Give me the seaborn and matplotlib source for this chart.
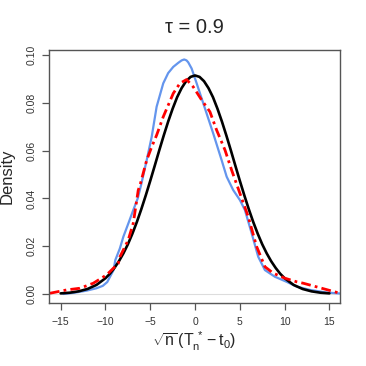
import numpy as np
import pandas as pd
import matplotlib
matplotlib.use("Agg")
import matplotlib.pyplot as plt
import seaborn as sns

# Kurven
blue_x = [-14.7, -13.5, -12.1, -11.0, -10.3, -9.8, -9.1, -8.9, -8.4, -8.0, -7.4, -6.9, -6.4,
          -6.0, -5.4, -4.84, -4.29, -3.55, -3.0, -2.43, -1.87, -1.5, -1.21, -0.95, -0.76,
          -0.38, 0.18, 0.92, 2.03, 2.97, 3.53, 4.26, 5.01, 5.57, 6.32, 7.05, 7.8, 8.92,
          10.22, 11.34, 12.83, 14.69, 16.2]
blue_y = [0.0, 0.0005, 0.0014, 0.0024, 0.0034, 0.0050, 0.0100, 0.0142, 0.0190, 0.0240, 0.0300,
          0.0351, 0.0400, 0.0460, 0.0560, 0.0658, 0.0784, 0.0882, 0.0925, 0.0951, 0.0968,
          0.0978, 0.0982, 0.0978, 0.0970, 0.0944, 0.0882, 0.0798, 0.0672, 0.0560, 0.0491,
          0.0435, 0.0393, 0.0351, 0.0254, 0.0156, 0.0100, 0.0072, 0.0051, 0.0031, 0.0017,
          0.0006, 0.0002]

red_x = [-16.2, -14.33, -12.85, -11.36, -9.87, -8.57, -8.38, -7.46, -6.9, -6.34, -6.14, -5.4,
         -4.84, -4.29, -3.55, -2.43, -1.69, -0.94, -0.2, 0.74, 1.66, 2.41, 3.34, 4.08, 5.01,
         5.94, 6.88, 7.80, 8.73, 10.03, 11.34, 12.08, 13.94, 16.17]
red_y = [0.0003, 0.0017, 0.0024, 0.0045, 0.0080, 0.0128, 0.0156, 0.0226, 0.0296, 0.0435,
         0.0456, 0.0560, 0.0616, 0.0665, 0.0742, 0.0840, 0.0882, 0.0898, 0.0867, 0.0812,
         0.0763, 0.0686, 0.0603, 0.0519, 0.0421, 0.0323, 0.0198, 0.0114, 0.0087, 0.0066,
         0.0051, 0.0045, 0.0026, 0.0003]

black_x = [-15, -14, -13, -12, -11, -10, -9.5, -9, -8.5, -8, -7.5, -7, -6.5, -6, -5.5, -5,
           -4.5, -4, -3.5, -3, -2.5, -2, -1.5, -1, -0.5, 0, 0.5, 1, 1.5, 2, 2.5, 3, 3.5, 4,
           4.5, 5, 5.5, 6, 6.5, 7, 7.5, 8, 8.5, 9, 9.5, 10, 11, 12, 13, 14, 15]
black_y = [0.00025, 0.00053, 0.0011, 0.0021, 0.0038, 0.0066, 0.0085, 0.0109, 0.0137, 0.0170,
           0.0208, 0.0252, 0.0301, 0.0355, 0.0413, 0.0474, 0.0537, 0.0601, 0.0663, 0.0722,
           0.0776, 0.0824, 0.0862, 0.0891, 0.0909, 0.0915, 0.0909, 0.0891, 0.0862, 0.0824,
           0.0776, 0.0722, 0.0663, 0.0601, 0.0537, 0.0474, 0.0413, 0.0355, 0.0301, 0.0252,
           0.0208, 0.0170, 0.0137, 0.0109, 0.0085, 0.0066, 0.0038, 0.0021, 0.0011, 0.00053,
           0.00025]

x_ticks = [-15, -10, -5, 0, 5, 10, 15]
y_ticks = [0.00, 0.02, 0.04, 0.06, 0.08, 0.10]

sns.set_style("white")
plt.rcParams['font.family'] = ['Liberation Sans', 'DejaVu Sans']
plt.rcParams['mathtext.fontset'] = 'custom'
plt.rcParams['mathtext.rm'] = 'Liberation Sans'
plt.rcParams['mathtext.it'] = 'Liberation Sans'

fig = plt.figure(figsize=(3.66, 3.66), dpi=100)
ax = fig.add_axes([0.1347, 0.172, 0.794, 0.691])

ax.axhline(0, color='#dddddd', linewidth=0.8, zorder=0)
sns.lineplot(x=blue_x, y=blue_y, ax=ax, color='#6495ED', linewidth=1.6, sort=False)
sns.lineplot(x=black_x, y=black_y, ax=ax, color='black', linewidth=1.9, sort=False)
sns.lineplot(x=red_x, y=red_y, ax=ax, color='red', linewidth=2.0, sort=False,
             linestyle=(0, (3.5, 1.5, 1, 1.5)))

ax.set_xlim(-16.27, 16.17)
ax.set_ylim(-0.0038, 0.1021)
ax.set_xticks(x_ticks)
ax.set_xticklabels([str(t).replace('-', '\u2212') for t in x_ticks])
ax.set_yticks(y_ticks)
ax.set_yticklabels(['%.2f' % t for t in y_ticks], rotation=90, va='center')

for s in ax.spines.values():
    s.set_color('#555555')
    s.set_linewidth(1.0)
ax.tick_params(axis='both', direction='out', length=5, width=0.9, color='#555555',
               labelsize=7.5, labelcolor='#333333', bottom=True, left=True)
ax.tick_params(axis='x', pad=5)
ax.tick_params(axis='y', pad=4)

ax.set_title('\u03c4 = 0.9', fontsize=14.5, pad=12)
ax.set_xlabel(r'$\sqrt{n}\,(T_n^{\,*} - t_0)$', fontsize=11.5, labelpad=2)
ax.set_ylabel('Density', fontsize=12, labelpad=9)

plt.savefig('out.png', dpi=100)
